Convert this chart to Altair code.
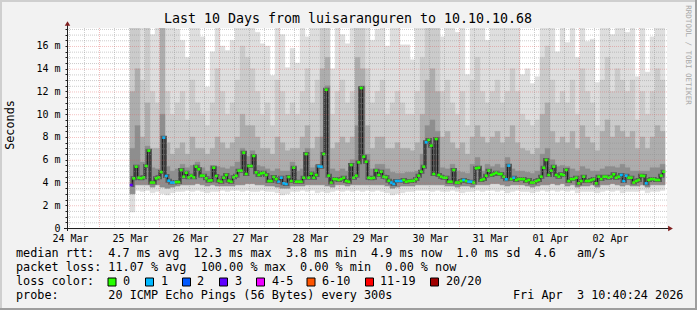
import altair as alt
import pandas as pd

FONT = "DejaVu Sans Mono"
NB = "\u00a0"

# ---------------- plot geometry (plot area in pixels, padding around it) ----
PLOT_W, PLOT_H = 600, 200
PAD = {"left": 67, "top": 28, "right": 30, "bottom": 82}
X_DAYS = 10.0          # x domain in days (left edge = 0)
Y_TOP = 17.58          # y domain top in ms

# ---------------- texts ----------------
title_text = "Last 10 Days from luisaranguren to 10.10.10.68"
y_title = "Seconds"
credit = "RRDTOOL / TOBI OETIKER"
day_labels = ["24 Mar", "25 Mar", "26 Mar", "27 Mar", "28 Mar",
              "29 Mar", "30 Mar", "31 Mar", "01 Apr", "02 Apr"]
day_label_pos = [0.05, 1.05, 2.05, 3.05, 4.05, 5.05, 6.05, 7.05, 8.05, 9.05]
major_x = [0.533, 1.533, 2.533, 3.533, 4.533, 5.533, 6.533, 7.533, 8.533, 9.533]

legend_rows = [
    "median rtt:  4.7 ms avg  12.3 ms max  3.8 ms min  4.9 ms now  1.0 ms sd  4.6   am/s",
    "packet loss: 11.07 % avg  100.00 % max  0.00 % min  0.00 % now",
    "loss color:",
    "probe:       20 ICMP Echo Pings (56 Bytes) every 300s",
]
stamp = "Fri Apr  3 10:40:24 2026"
loss_labels = ["0", "1", "2", "3", "4-5", "6-10", "11-19", "20/20"]
loss_colors = ["#26ff00", "#00b8ff", "#0059ff", "#5e00ff",
               "#ee00ff", "#ff5500", "#ff0000", "#a10000"]

# ---------------- data: hourly median rtt (ms) and lost pings ----------------
START_DAY = 1.05       # first sample (days from left edge)
HOUR = 1.0 / 24.0
median_ms = [
    3.78, 4.37, 5.39, 4.42, 4.37, 4.45, 5.45, 6.80, 3.99, 3.99,
    4.37, 4.45, 4.92, 7.94, 4.57, 4.16, 3.99, 3.99, 4.04, 4.04,
    5.10, 4.51, 4.86, 4.45, 4.60, 4.45, 5.39, 5.16, 4.60, 4.60,
    4.37, 4.16, 4.19, 5.30, 4.57, 4.16, 4.07, 4.42, 4.66, 4.16,
    4.07, 4.45, 4.60, 5.04, 5.04, 6.62, 4.75, 5.45, 5.45, 6.33,
    4.89, 4.66, 4.80, 4.86, 4.66, 4.13, 4.13, 4.48, 4.30, 4.07,
    4.42, 3.93, 3.87, 4.48, 4.13, 5.30, 4.07, 4.07, 4.07, 4.42,
    6.50, 4.42, 4.78, 4.42, 4.66, 5.42, 5.39, 6.50, 12.15, 4.60,
    3.99, 4.30, 4.30, 4.22, 4.30, 4.42, 4.13, 4.07, 5.54, 4.42,
    4.60, 5.77, 12.30, 6.27, 5.83, 4.42, 4.37, 4.42, 5.04, 4.66,
    4.95, 4.51, 4.45, 4.16, 3.99, 3.87, 4.13, 4.13, 4.13, 4.22,
    4.07, 4.13, 4.13, 4.16, 4.30, 4.60, 4.95, 5.39, 7.53, 7.74,
    7.24, 4.75, 7.82, 4.66, 4.51, 4.42, 4.42, 4.07, 4.07, 5.10,
    3.99, 3.99, 4.13, 4.22, 4.13, 4.07, 4.07, 3.99, 5.25, 5.30,
    4.22, 4.30, 4.60, 5.04, 4.66, 4.75, 4.86, 4.75, 4.75, 4.51,
    4.28, 5.48, 4.30, 4.42, 4.22, 4.30, 4.30, 4.30, 4.13, 4.22,
    3.99, 3.99, 4.13, 4.22, 4.51, 5.30, 5.98, 4.66, 5.04, 5.39,
    4.66, 4.51, 4.72, 4.66, 5.10, 4.13, 4.30, 4.30, 4.42, 3.93,
    4.13, 4.51, 4.13, 4.13, 4.22, 4.30, 3.93, 4.51, 4.30, 4.51,
    4.51, 4.42, 4.51, 4.72, 4.42, 4.51, 4.66, 4.13, 4.60, 4.42,
    4.42, 3.99, 4.13, 4.22, 4.60, 4.57, 3.93, 4.22, 4.30, 4.30,
    4.22, 4.22, 4.60, 4.95,
]
loss_count = [
    3, 0, 0, 0, 0, 0, 0, 0, 0, 0,
    0, 0, 0, 1, 1, 1, 1, 1, 0, 0,
    0, 0, 0, 0, 0, 0, 0, 0, 0, 0,
    0, 0, 0, 0, 0, 0, 0, 0, 0, 0,
    0, 0, 0, 0, 0, 0, 0, 0, 0, 0,
    0, 0, 0, 0, 0, 0, 0, 0, 0, 1,
    1, 1, 1, 0, 0, 0, 0, 0, 0, 0,
    0, 0, 0, 0, 0, 1, 1, 0, 0, 0,
    0, 0, 0, 0, 0, 0, 0, 0, 0, 0,
    0, 0, 0, 0, 0, 0, 0, 0, 0, 0,
    0, 0, 0, 0, 1, 1, 1, 1, 1, 0,
    0, 0, 0, 0, 0, 0, 0, 0, 1, 0,
    0, 0, 0, 0, 0, 0, 0, 0, 0, 0,
    0, 0, 0, 1, 0, 1, 1, 0, 0, 0,
    0, 0, 0, 0, 0, 0, 0, 0, 0, 0,
    1, 1, 0, 1, 0, 0, 0, 0, 0, 0,
    0, 0, 0, 0, 0, 0, 0, 0, 0, 0,
    0, 0, 0, 0, 0, 0, 0, 0, 0, 0,
    0, 0, 0, 0, 0, 0, 0, 0, 0, 0,
    0, 0, 0, 0, 0, 0, 1, 1, 1, 0,
    0, 0, 0, 0, 0, 0, 1, 0, 0, 0,
    0, 0, 0, 0,
]

# ---------------- data: smoke (ping distribution), 2-hour columns ----------------
SMOKE_STEP = 2.0 / 24.0
smoke_p20 = [
    18, 18, 18, 18, 17, 18, 18, 18, 18, 17.5,
    16.5, 15.0, 18, 18, 16.8, 12.4, 15.5, 18, 16, 15.6,
    16.5, 18, 18, 18, 18, 17.2, 16.2, 16.0, 13.4, 18,
    17, 14.1, 15.8, 14.5, 18, 16.8, 18, 18, 18, 18,
    14.0, 18, 17, 16.2, 18, 18, 18, 18, 16.5, 17.5,
    18, 16, 18, 18, 16.1, 16.1, 14.8, 18, 18, 18,
    18, 18, 16.8, 18, 18, 17.2, 18, 13.5, 18, 18,
    18, 16.5, 18, 18, 18, 18, 18, 18, 13.5, 14.0,
    12.7, 13.3, 18, 18, 18, 15.5, 18, 16.3, 18, 15.0,
    18, 16.4, 16.6, 12.8, 18, 18, 17.0, 18, 18, 17.2,
    18, 13.3, 18, 13.7, 16.8, 18, 18,
]
smoke_p18 = [
    18, 18, 13, 18, 12, 11, 18, 12, 10, 11,
    12, 9.5, 13, 11, 10, 9, 11, 14, 12, 10,
    11, 13, 16, 15, 14, 12, 10, 11, 9, 13,
    12, 10, 11, 10, 12, 14, 11, 13, 18, 18,
    10, 12, 13, 11, 12, 18, 18, 14, 11, 12,
    13, 10, 11, 12, 11, 10, 10, 12, 15, 18,
    18, 18, 12, 13, 11, 10, 12, 9, 13, 15,
    12, 11, 12, 13, 11, 12, 14, 12, 10, 9.5,
    9, 9.5, 15, 16, 13, 11, 12, 11, 13, 10,
    14, 12, 11, 9, 13, 15, 12, 14, 13, 12,
    13, 9.5, 12, 10, 12, 14, 13,
]
smoke_p16 = [
    12, 14, 8, 11, 7, 7, 18, 7.5, 6.5, 7,
    7.5, 6.5, 8, 7, 7, 6.5, 7, 8, 7.5, 7,
    7.5, 8, 10, 9, 9, 8, 7, 7, 6.5, 8,
    7.5, 6.8, 7, 7, 8, 9, 7, 8, 14, 15,
    7, 7.5, 8, 7.5, 8, 15, 14, 9, 7, 8,
    8, 7, 7, 7.5, 7, 7, 6.8, 7.5, 10, 13,
    14, 12, 8, 8.5, 7.5, 7, 7.5, 6.5, 8, 9,
    8, 7.5, 8, 8.5, 7.5, 8, 9, 7.5, 7, 6.8,
    6.5, 7, 10, 11, 8.5, 7.5, 8, 7.5, 8.5, 7,
    9, 8, 7.5, 6.8, 8.5, 9.5, 8, 9, 8.5, 8,
    8.5, 7, 8, 7, 8, 9, 8.5,
]
smoke_p14 = [
    7, 9, 5.8, 7.2, 5.3, 5.2, 10, 5.4, 5.0, 5.2,
    5.6, 5.3, 5.5, 5.8, 5.3, 5.0, 5.5, 5.4, 5.3, 5.2,
    5.4, 5.8, 7.0, 6.3, 6.8, 5.5, 5.4, 5.2, 5.0, 5.2,
    5.0, 5.0, 5.8, 5.0, 5.2, 7.0, 5.3, 5.5, 8, 12.5,
    5.2, 5.0, 5.2, 5.0, 6.0, 9, 12.5, 6.5, 5.2, 5.6,
    5.6, 5.2, 4.9, 4.8, 4.8, 4.9, 4.9, 5.0, 6.5, 9,
    9.5, 8.5, 5.3, 5.2, 5.6, 5.0, 4.9, 4.8, 5.6, 6.2,
    5.0, 5.6, 5.4, 5.6, 5.3, 6.2, 5.2, 5.0, 5.0, 4.9,
    4.8, 5.0, 6.5, 7.0, 6.0, 5.4, 5.5, 5.4, 5.2, 5.0,
    5.4, 5.2, 5.0, 5.0, 5.2, 5.4, 5.4, 5.3, 5.6, 5.3,
    5.0, 5.0, 5.0, 5.0, 5.3, 5.3, 5.6,
]
smoke_p1 = [
    1.4, 3.3, 3.2, 3.3, 3.1, 3.2, 3.0, 2.9, 3.1, 3.2,
    3.2, 3.3, 3.2, 3.3, 3.2, 3.1, 3.2, 3.2, 3.3, 3.2,
    3.3, 3.3, 3.2, 3.3, 3.2, 3.2, 3.3, 3.2, 3.2, 3.1,
    2.9, 3.0, 3.2, 3.2, 3.3, 3.2, 3.3, 3.1, 3.2, 3.1,
    3.2, 3.3, 3.2, 3.3, 3.2, 3.3, 3.2, 3.3, 3.2, 3.3,
    3.2, 3.1, 2.9, 3.0, 3.1, 3.2, 3.2, 3.3, 3.3, 3.3,
    3.2, 3.3, 3.2, 3.2, 3.3, 3.2, 3.1, 3.2, 3.2, 3.3,
    3.2, 3.3, 3.3, 3.2, 3.3, 3.1, 3.2, 3.3, 3.2, 3.2,
    3.1, 3.2, 3.3, 3.2, 3.3, 3.2, 3.3, 3.2, 3.3, 3.1,
    3.2, 3.2, 3.2, 3.1, 3.2, 3.3, 3.2, 3.3, 3.1, 3.2,
    3.2, 3.2, 3.3, 3.1, 3.2, 3.2, 3.3,
]
smoke_p3 = [
    3.0, 3.8, 3.8, 3.8, 3.6, 3.8, 3.6, 3.5, 3.6, 3.7,
    3.8, 3.8, 3.8, 3.9, 3.8, 3.7, 3.8, 3.7, 3.7, 3.7,
    3.7, 3.8, 3.8, 3.9, 3.9, 3.8, 3.8, 3.7, 3.7, 3.6,
    3.5, 3.5, 3.7, 3.7, 3.7, 3.8, 3.8, 3.8, 3.8, 3.7,
    3.6, 3.8, 3.8, 3.7, 3.8, 3.8, 3.8, 3.8, 3.8, 3.8,
    3.8, 3.7, 3.5, 3.6, 3.7, 3.7, 3.7, 3.8, 3.8, 3.8,
    3.8, 3.8, 3.8, 3.7, 3.7, 3.6, 3.7, 3.7, 3.6, 3.8,
    3.8, 3.8, 3.9, 3.9, 3.8, 3.7, 3.8, 3.8, 3.8, 3.7,
    3.6, 3.7, 3.8, 3.8, 3.9, 3.8, 3.9, 3.7, 3.8, 3.6,
    3.7, 3.7, 3.8, 3.6, 3.8, 3.8, 3.9, 3.8, 3.7, 3.8,
    3.7, 3.7, 3.8, 3.6, 3.8, 3.8, 3.8,
]

# ---------------- frames ----------------
n = len(median_ms)
med_df = pd.DataFrame({
    "t": [START_DAY + (i + 0.5) * HOUR for i in range(n)],
    "rtt": median_ms,
    "loss": loss_count,
})
m = len(smoke_p20)
smoke_df = pd.DataFrame({
    "t0": [START_DAY + i * SMOKE_STEP for i in range(m)],
    "t1": [START_DAY + (i + 1) * SMOKE_STEP for i in range(m)],
    "p1": smoke_p1, "p3": smoke_p3, "p14": smoke_p14,
    "p16": smoke_p16, "p18": smoke_p18, "p20": smoke_p20,
})

xs = alt.Scale(domain=[0, X_DAYS], nice=False, zero=False)
ys = alt.Scale(domain=[0, Y_TOP], nice=False, zero=False)

label_js = "[" + ",".join("'" + s.replace(" ", NB) + "'" for s in day_labels) + "]"
x_axis = alt.Axis(values=day_label_pos, labelExpr=label_js + "[round(datum.value - 0.05)]",
                  title=None, domain=False, ticks=False, grid=False,
                  labelFont=FONT, labelFontSize=10, labelColor="#000000",
                  labelPadding=13, labelBaseline="alphabetic", labelAngle=0,
                  labelFlush=False, labelOverlap=False)
y_axis = alt.Axis(values=[i * 0.5 for i in range(36)],
                  labelExpr="(datum.value % 2 == 0) ? (datum.value == 0 ? '0" + NB + NB +
                            "' : format(datum.value, 'd') + '" + NB + "m') : ''",
                  title=None, domain=False, grid=False, ticks=True, tickSize=2,
                  tickColor="#1f1f1f", labelFont=FONT, labelFontSize=10,
                  labelColor="#000000", labelPadding=5, labelBaseline="middle",
                  labelFlush=False, labelOverlap=False)


def smoke(lo, hi, color):
    return alt.Chart(smoke_df).mark_rect(
        color=color, stroke=color, strokeWidth=0.4, clip=True
    ).encode(
        x=alt.X("t0:Q", scale=xs, axis=x_axis), x2="t1:Q",
        y=alt.Y(f"{lo}:Q", scale=ys, axis=y_axis), y2=f"{hi}:Q",
    )


layers = [
    smoke("p1", "p20", "#dedede"),
    smoke("p3", "p18", "#cbcbcb"),
    smoke("p3", "p16", "#adadad"),
    smoke("p3", "p14", "#8e8e8e"),
]

# dark core of the smoke around the median, then the median line and loss steps
layers.append(
    alt.Chart(med_df).mark_line(interpolate="step", color="#5a5a5a", strokeWidth=4, clip=True)
    .encode(x=alt.X("t:Q", scale=xs, axis=x_axis), y=alt.Y("rtt:Q", scale=ys, axis=y_axis))
)
layers.append(
    alt.Chart(med_df).mark_line(interpolate="step", color="#202020", strokeWidth=1, clip=True)
    .encode(x=alt.X("t:Q", scale=xs, axis=x_axis), y=alt.Y("rtt:Q", scale=ys, axis=y_axis))
)
layers.append(
    alt.Chart(med_df).mark_tick(orient="horizontal", size=3, thickness=2.6, opacity=1, clip=True)
    .encode(
        x=alt.X("t:Q", scale=xs, axis=x_axis),
        y=alt.Y("rtt:Q", scale=ys, axis=y_axis),
        color=alt.Color("loss:O", scale=alt.Scale(domain=[0, 1, 2, 3], range=loss_colors[:4]),
                        legend=None),
    )
)

# grid (drawn over the smoke, as rrdtool does)
minor_x = [0.033 + 0.25 * k for k in range(40) if k % 4 != 2]
minor_y = [0.5 * k for k in range(1, 36) if k % 4 != 0]
major_y = [2.0 * k for k in range(1, 9)]
layers.append(alt.Chart(pd.DataFrame({"t": minor_x})).mark_rule(
    color="#8f8f8f", opacity=0.45, strokeDash=[1, 1], xOffset=0.5
).encode(x=alt.X("t:Q", scale=xs, axis=x_axis)))
layers.append(alt.Chart(pd.DataFrame({"v": minor_y})).mark_rule(
    color="#8f8f8f", opacity=0.45, strokeDash=[1, 1], yOffset=0.5
).encode(y=alt.Y("v:Q", scale=ys, axis=y_axis)))
layers.append(alt.Chart(pd.DataFrame({"t": major_x})).mark_rule(
    color="#de4f4f", opacity=0.4, strokeDash=[1, 1], xOffset=0.5
).encode(x=alt.X("t:Q", scale=xs, axis=x_axis)))
layers.append(alt.Chart(pd.DataFrame({"v": major_y})).mark_rule(
    color="#de4f4f", opacity=0.35, strokeDash=[1, 1], yOffset=0.5
).encode(y=alt.Y("v:Q", scale=ys, axis=y_axis)))

one = pd.DataFrame({"_": [0]})
L, T = PAD["left"], PAD["top"]


def px(ax, ay):
    return dict(x=alt.value(ax - L), y=alt.value(ay - T))


def hline(x1, x2, y, color, w=1):
    return alt.Chart(one).mark_rule(color=color, strokeWidth=w).encode(
        x=alt.value(x1 - L), x2=alt.value(x2 - L), y=alt.value(y - T))


def vline(x, y1, y2, color, w=1):
    return alt.Chart(one).mark_rule(color=color, strokeWidth=w).encode(
        x=alt.value(x - L), y=alt.value(y1 - T), y2=alt.value(y2 - T))


# axes lines and arrows
layers.append(hline(64, 669, 228.5, "#1f1f1f"))
layers.append(vline(67.5, 25, 231, "#1f1f1f"))
layers.append(alt.Chart(one).mark_point(shape="triangle-right", filled=True, size=30,
                                        color="#801f1f", opacity=1).encode(**px(670.5, 228.5)))
layers.append(alt.Chart(one).mark_point(shape="triangle-up", filled=True, size=30,
                                        color="#801f1f", opacity=1).encode(**px(67.5, 23.5)))

# frame
layers.append(hline(0, 697, 1, "#cfcfcf", 2))
layers.append(vline(1, 0, 310, "#cfcfcf", 2))
layers.append(hline(0, 697, 309, "#9e9e9e", 2))
layers.append(vline(696, 0, 310, "#9e9e9e", 2))


def text(s, ax, ay, size=11.8, align="left", baseline="alphabetic", angle=0, color="#000000"):
    return alt.Chart(one).mark_text(
        text=s.replace(" ", NB), font=FONT, fontSize=size, align=align,
        baseline=baseline, angle=angle, color=color,
    ).encode(**px(ax, ay))


layers.append(text(title_text, 348, 23, size=13.3, align="center"))
layers.append(text(y_title, 10, 125, size=11.8, align="center", baseline="middle", angle=270))
layers.append(text(credit, 688, 55, size=7.5, align="center", baseline="middle", angle=90,
                   color="#a8a8a8"))

row_y = [257, 271, 285, 299]
for s, yy in zip(legend_rows, row_y):
    layers.append(text(s, 16, yy))
layers.append(text(stamp, 513, 299))

box_cx = [112, 149.5, 186.5, 223.5, 260.5, 311, 369.5, 434.5]
lab_x = [123, 161, 197, 235, 272, 322, 380, 446]
for lab, col, bx, lx in zip(loss_labels, loss_colors, box_cx, lab_x):
    layers.append(alt.Chart(one).mark_square(size=64, color=col, opacity=1, stroke="#000000",
                                             strokeWidth=1, filled=True).encode(**px(bx, 282)))
    layers.append(text(lab, lx, 285))

chart = alt.layer(*layers).properties(
    width=PLOT_W, height=PLOT_H,
    padding=PAD,
    autosize=alt.AutoSizeParams(type="none"),
    background="#f2f2f2",
).configure_view(fill="#ffffff", stroke=None)

chart.save("out.html", embed_options={"renderer": "svg", "actions": False})
